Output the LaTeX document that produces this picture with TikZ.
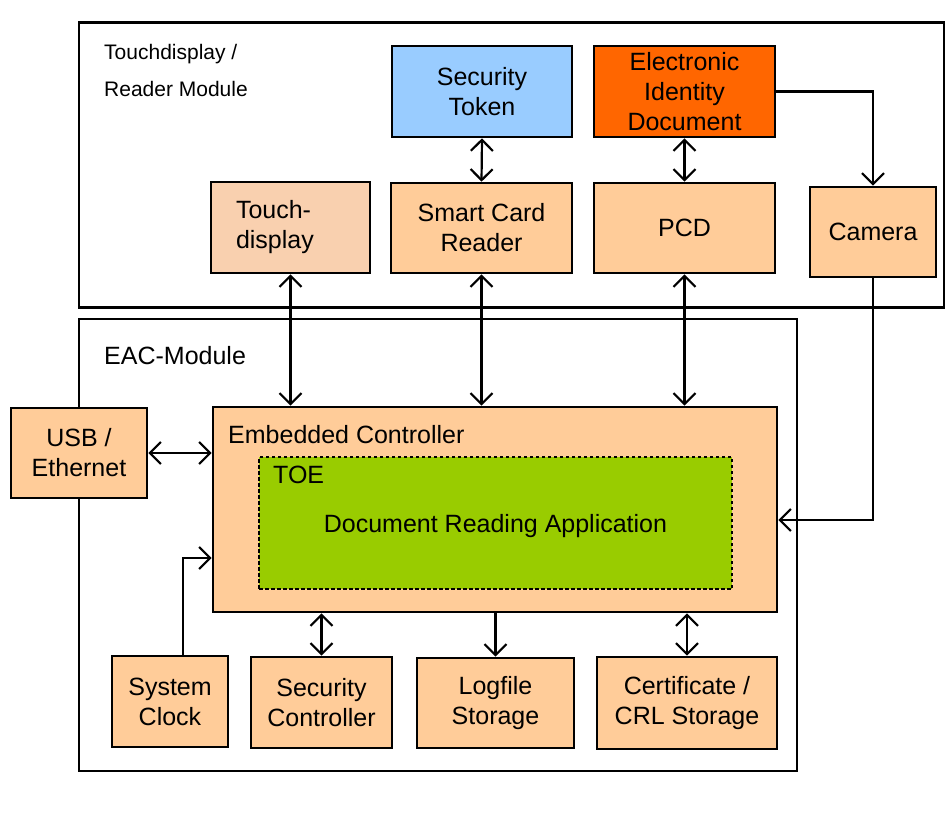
\documentclass[tikz,border=0pt]{standalone}
\usepackage{fontspec}
\setmainfont{Liberation Sans}
\usetikzlibrary{arrows.meta,calc}
\definecolor{peach}{HTML}{FFCC99}
\definecolor{peachlt}{HTML}{F9D0AF}
\definecolor{skyb}{HTML}{99CCFF}
\definecolor{orng}{HTML}{FF6600}
\definecolor{lime}{HTML}{99CC00}
\begin{document}
\begin{tikzpicture}[x=1pt,y=-1pt,
  >={Straight Barb[length=11pt,width=22pt,line width=2.2pt]},
  box/.style={draw=black, line width=2.6pt, fill=peach, inner sep=0pt, align=center,
    font=\fontsize{25}{30}\selectfont},
  frame/.style={draw=black, line width=2.6pt, inner sep=0pt},
  lbl/.style={inner sep=0pt, anchor=base west, font=\fontsize{25}{30}\selectfont},
  small/.style={inner sep=0pt, anchor=base west, font=\fontsize{21}{36}\selectfont},
  conn/.style={line width=2.2pt},
]
\useasboundingbox (0,0) rectangle (945,825);

% containers
\node[frame, minimum width=865, minimum height=285] (trm) at (511.5,165) {};
\node[frame, minimum width=718, minimum height=452] (eac) at (438,545) {};
\node[small] (trmlbl) at (104,59) {Touchdisplay /};
\node[small] (trmlbl2) at (104,96) {Reader Module};
\node[lbl] (eaclbl) at (104,364) {EAC-Module};

% top module
\node[box, fill=skyb, minimum width=180, minimum height=91] (st) at (482,91.5) {Security\\Token};
\node[box, fill=orng, minimum width=181, minimum height=91] (eid) at (684.5,91.5) {Electronic\\Identity\\Document};
\node[box, fill=peachlt, minimum width=159, minimum height=91, inner xsep=25pt, text width=109pt, align=left] (td) at (290.5,227.5) {Touch-\\display};
\node[box, minimum width=181, minimum height=90] (scr) at (481.5,228) {Smart Card\\Reader};
\node[box, minimum width=181, minimum height=90] (pcd) at (684.5,228) {PCD};
\node[box, minimum width=126, minimum height=90] (cam) at (873,232) {Camera};

% EAC module
\node[box, minimum width=564, minimum height=205] (ec) at (495,509.5) {};
\node[lbl] (eclbl) at (228,443) {Embedded Controller};
\node[draw=black, fill=lime, line width=2.2pt, dash pattern=on 3.5pt off 2.5pt, minimum width=473, minimum height=132, inner sep=0pt] (toe) at (495.5,523) {};
\node[lbl] (toelbl) at (273,483) {TOE};
\node[inner sep=0pt, anchor=base, font=\fontsize{25}{30}\selectfont] (dra) at (495.5,532) {Document Reading Application};

\node[box, minimum width=136, minimum height=90] (usb) at (79,453) {USB /\\Ethernet};
\node[box, minimum width=116, minimum height=91] (clk) at (170,701.5) {System\\Clock};
\node[box, minimum width=141, minimum height=91] (sc) at (321.5,702.5) {Security\\Controller};
\node[box, minimum width=157, minimum height=90] (log) at (495.5,703) {Logfile\\Storage};
\node[box, minimum width=180, minimum height=92] (cert) at (687,703) {Certificate /\\CRL Storage};

% connectors
\draw[conn,<->] (st.south) -- (scr.north);
\draw[conn,<->] (eid.south) -- (pcd.north);
\draw[conn,->] (eid.east) -| (cam.north);
\draw[conn,->] (cam.south) |- ($(ec.east)+(0,10.5)$);
\draw[conn,<->] (td.south) -- (td.south |- ec.north);
\draw[conn,<->] (scr.south) -- (scr.south |- ec.north);
\draw[conn,<->] (pcd.south) -- (pcd.south |- ec.north);
\draw[conn,<->] (usb.east) -- (usb.east -| ec.west);
\draw[conn,->] ($(clk.north)+(13,0)$) |- ($(ec.west)+(0,48.5)$);
\draw[conn,<->] (sc.north |- ec.south) -- (sc.north);
\draw[conn,->] (log.north |- ec.south) -- (log.north);
\draw[conn,<->] (cert.north |- ec.south) -- (cert.north);
\end{tikzpicture}
\end{document}
